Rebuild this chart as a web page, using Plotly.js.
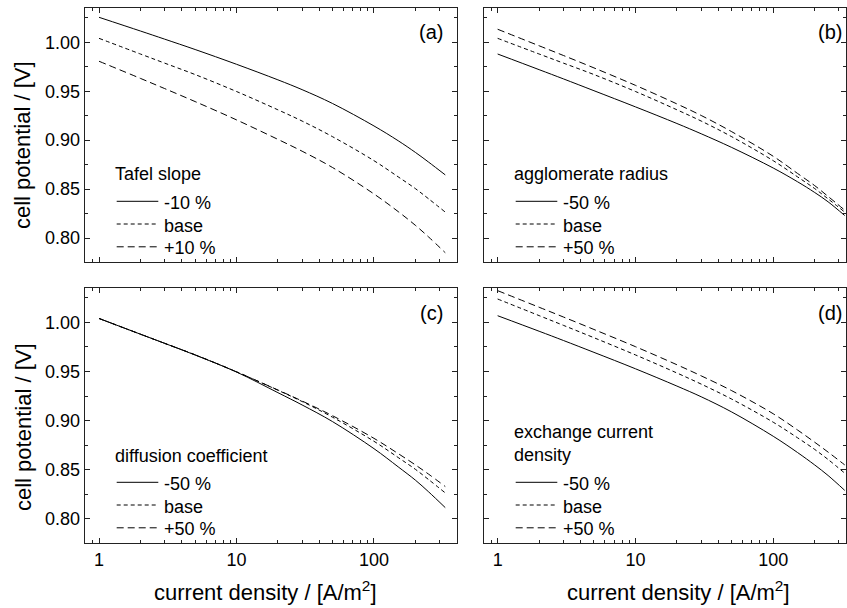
<!DOCTYPE html>
<html><head><meta charset="utf-8">
<script src="https://cdn.plot.ly/plotly-3.0.1.min.js"></script>
<style>html,body{margin:0;padding:0;background:#fff}#chart{width:847px;height:608px}</style>
</head><body><div id="chart"></div>
<script>
// current density / [A/m^2]
const currentDensity = [1, 2, 3, 5, 10, 20, 30, 50, 100, 150, 200, 250, 330];
// base case (shared by a, b, c)
const baseCase = [1.004, 0.988, 0.9787, 0.967, 0.9497, 0.931, 0.9195, 0.9035, 0.879, 0.8625, 0.8505, 0.840, 0.8265];
// (a) Tafel slope
const tafelMinus10 = [1.0255, 1.0115, 1.0032, 0.9926, 0.9775, 0.9616, 0.9516, 0.9374, 0.9145, 0.8994, 0.8875, 0.8775, 0.8645];
const tafelPlus10 = [0.9806, 0.9631, 0.9527, 0.9394, 0.9207, 0.9008, 0.8887, 0.872, 0.845, 0.827, 0.813, 0.801, 0.785];
// (b) agglomerate radius
const radiusMinus50 = [0.988, 0.972, 0.9626, 0.9505, 0.934, 0.917, 0.9065, 0.8925, 0.8715, 0.8575, 0.8465, 0.837, 0.823];
const radiusPlus50 = [1.0133, 0.9964, 0.9865, 0.9738, 0.956, 0.937, 0.9252, 0.9086, 0.8835, 0.866, 0.8535, 0.8425, 0.8285];
// (c) diffusion coefficient
const diffMinus50 = [1.004, 0.988, 0.9787, 0.9668, 0.9495, 0.9285, 0.916, 0.899, 0.8715, 0.853, 0.8395, 0.8275, 0.8115];
const diffPlus50 = [1.004, 0.988, 0.9787, 0.967, 0.9497, 0.9312, 0.920, 0.905, 0.882, 0.8665, 0.855, 0.8455, 0.833];
// (d) exchange current density
const exchMinus50 = [1.0068, 0.991, 0.9816, 0.9695, 0.9528, 0.9352, 0.9243, 0.9088, 0.8841, 0.8676, 0.8549, 0.8442, 0.8291];
const exchBase = [1.0238, 1.0069, 0.997, 0.9844, 0.9669, 0.9485, 0.9372, 0.9219, 0.8984, 0.8826, 0.8707, 0.8605, 0.8466];
const exchPlus50 = [1.0323, 1.0154, 1.0055, 0.9928, 0.9753, 0.9569, 0.9456, 0.9305, 0.907, 0.8905, 0.878, 0.868, 0.855];

const legendTitles = ['Tafel slope', 'agglomerate radius', 'diffusion coefficient', 'exchange current<br>density'];
const labelsTafel = ['-10 %', 'base', '+10 %'];
const labelsFifty = ['-50 %', 'base', '+50 %'];
const panelLabels = ['(a)', '(b)', '(c)', '(d)'];
const xTitle = 'current density / [A/m<sup>2</sup>]';
const yTitle = 'cell potential / [V]';

const FONT = 'Liberation Sans, Arial, Helvetica, sans-serif';
const DASHES = ['solid', '4px,3px', '7px,4px'];

const panels = [
  {xa: 'x', ya: 'y', series: [tafelMinus10, baseCase, tafelPlus10], labels: labelsTafel},
  {xa: 'x2', ya: 'y2', series: [radiusMinus50, baseCase, radiusPlus50], labels: labelsFifty},
  {xa: 'x3', ya: 'y3', series: [diffMinus50, baseCase, diffPlus50], labels: labelsFifty},
  {xa: 'x4', ya: 'y4', series: [exchMinus50, exchBase, exchPlus50], labels: labelsFifty}
];

const data = [];
panels.forEach(p => {
  p.series.forEach((s, k) => {
    data.push({x: currentDensity, y: s, name: p.labels[k], type: 'scatter', mode: 'lines',
      line: {color: '#000', width: 1, dash: DASHES[k], shape: 'spline', smoothing: 1},
      xaxis: p.xa, yaxis: p.ya, showlegend: false, hoverinfo: 'skip'});
  });
});

const L = 85, R = 1, T = 8, B = 65, W = 847, H = 608;
const pw = W - L - R, ph = H - T - B;
const px = v => (v - L) / pw;
const py = v => (H - B - v) / ph;

const tickFont = {family: FONT, size: 18, color: '#000'};
function xax(dom, range, labels, anchor) {
  return {type: 'log', domain: dom, range: range, anchor: anchor, dtick: 1,
    showticklabels: labels, tickfont: tickFont, ticks: 'inside', ticklen: 5, tickwidth: 1, tickcolor: '#222',
    minor: {ticks: 'inside', ticklen: 3, tickwidth: 1, tickcolor: '#222', dtick: 'D1', showgrid: false},
    showline: true, linecolor: '#222', linewidth: 1.3, mirror: 'allticks', showgrid: false, zeroline: false, fixedrange: true};
}
function yax(dom, labels, anchor) {
  return {domain: dom, range: [0.7755, 1.035], anchor: anchor, dtick: 0.05, tick0: 0, tickformat: '.2f',
    showticklabels: labels, tickfont: tickFont, ticks: 'inside', ticklen: 5, tickwidth: 1, tickcolor: '#222',
    minor: {ticks: 'inside', ticklen: 3, tickwidth: 1, tickcolor: '#222', dtick: 0.025, showgrid: false},
    showline: true, linecolor: '#222', linewidth: 1.3, mirror: 'allticks', showgrid: false, zeroline: false, fixedrange: true};
}
const xdomL = [0, px(457)], xdomR = [px(484), 1];
const ydomT = [py(262), 1], ydomB = [0, py(288)];
const rangeL = [-0.102, 2.604], rangeR = [-0.099, 2.528];

// hand-drawn legends (title + three sample lines + labels), pixel positions
const legendPos = [
  {tx: 115, ty: 174.3, lx: 116.7, rows: [201.3, 224, 246.8]},
  {tx: 514, ty: 174.3, lx: 515.7, rows: [201.3, 224, 246.8]},
  {tx: 115, ty: 455.6, lx: 116.7, rows: [482.3, 505, 527.8]},
  {tx: 514, ty: 443.3, lx: 515.7, rows: [482.3, 505, 527.8]}
];
const legFont = {family: FONT, size: 18, color: '#000'};
const annotations = [];
const shapes = [];
panels.forEach((p, i) => {
  const g = legendPos[i];
  annotations.push({xref: 'paper', yref: 'paper', x: px(g.tx - 2), y: py(g.ty), xanchor: 'left', yanchor: 'middle',
    align: 'left', text: legendTitles[i], showarrow: false, font: legFont});
  p.labels.forEach((lab, k) => {
    shapes.push({type: 'line', xref: 'paper', yref: 'paper', x0: px(g.lx), x1: px(g.lx + 41.6),
      y0: py(g.rows[k]), y1: py(g.rows[k]), line: {color: '#000', width: 1, dash: DASHES[k]}});
    annotations.push({xref: 'paper', yref: 'paper', x: px(g.lx + 47.3 - 2), y: py(g.rows[k] + 1.5),
      xanchor: 'left', yanchor: 'middle', text: lab, showarrow: false, font: legFont});
  });
  annotations.push({xref: p.xa, yref: p.ya, x: 2.515, y: 1.010, xanchor: 'right', yanchor: 'middle',
    text: panelLabels[i], showarrow: false, font: {family: FONT, size: 20, color: '#000'}});
});

const titleFont = {family: FONT, size: 22, color: '#000'};
annotations.push({xref: 'paper', yref: 'paper', x: px(23), y: py(145), textangle: -90, text: yTitle,
  showarrow: false, font: titleFont, xanchor: 'center', yanchor: 'middle'});
annotations.push({xref: 'paper', yref: 'paper', x: px(23), y: py(427), textangle: -90, text: yTitle,
  showarrow: false, font: titleFont, xanchor: 'center', yanchor: 'middle'});
annotations.push({xref: 'paper', yref: 'paper', x: px(265), y: py(591), text: xTitle,
  showarrow: false, font: titleFont, xanchor: 'center', yanchor: 'middle'});
annotations.push({xref: 'paper', yref: 'paper', x: px(678), y: py(591), text: xTitle,
  showarrow: false, font: titleFont, xanchor: 'center', yanchor: 'middle'});

const layout = {
  width: W, height: H, margin: {l: L, r: R, t: T, b: B, pad: 0},
  paper_bgcolor: '#fff', plot_bgcolor: '#fff', font: {family: FONT, color: '#000'},
  showlegend: false,
  xaxis: xax(xdomL, rangeL, false, 'y'),
  yaxis: yax(ydomT, true, 'x'),
  xaxis2: xax(xdomR, rangeR, false, 'y2'),
  yaxis2: yax(ydomT, false, 'x2'),
  xaxis3: xax(xdomL, rangeL, true, 'y3'),
  yaxis3: yax(ydomB, true, 'x3'),
  xaxis4: xax(xdomR, rangeR, true, 'y4'),
  yaxis4: yax(ydomB, false, 'x4'),
  annotations: annotations,
  shapes: shapes
};
Plotly.newPlot('chart', data, layout, {displayModeBar: false, staticPlot: true});
</script>
</body></html>
